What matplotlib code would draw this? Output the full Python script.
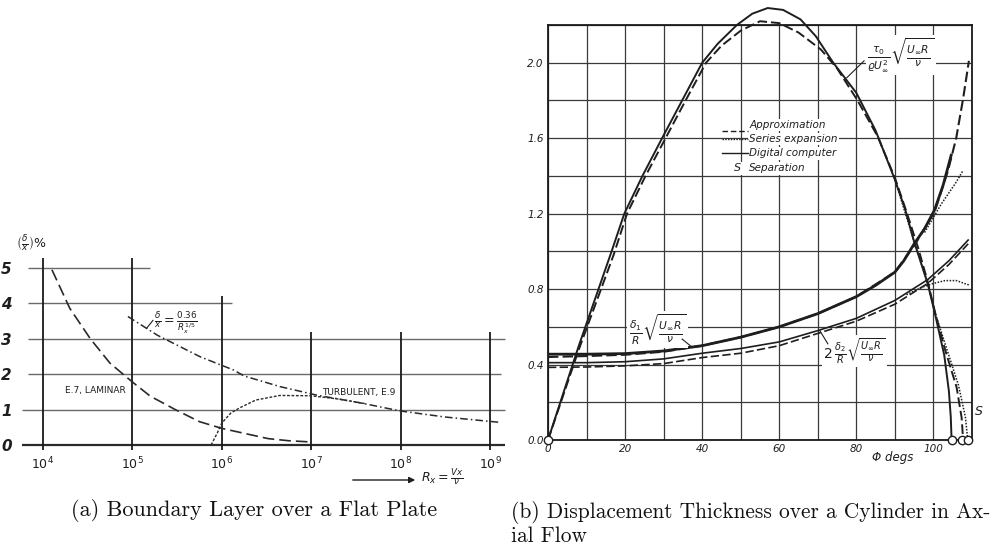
import numpy as np
import matplotlib
matplotlib.use("Agg")
import matplotlib.pyplot as plt

plt.rcParams['mathtext.fontset'] = 'dejavusans'
plt.rcParams['mathtext.default'] = 'it'

SANS = ['DejaVu Sans']
INK = '#1e1e1e'

# ---------------- (a) flat plate boundary layer ----------------
# log10 of the Reynolds number R_x, and delta/x in percent
lam_logR = [4.1, 4.3, 4.53, 4.75, 5.0, 5.2, 5.48, 5.75, 6.0, 6.25, 6.52, 6.75, 6.97]
lam_val = [4.95, 3.86, 3.0, 2.31, 1.78, 1.38, 1.0, 0.66, 0.47, 0.33, 0.18, 0.12, 0.09]

turb_logR = [4.95, 5.28, 5.76, 6.13, 6.25, 6.65, 7.06, 7.55, 8.0, 8.5, 9.11]
turb_val = [3.63, 3.1, 2.49, 2.12, 1.95, 1.65, 1.41, 1.19, 0.96, 0.79, 0.64]

e9_logR = [5.88, 5.95, 6.0, 6.1, 6.2, 6.38, 6.65, 7.0, 7.3, 7.6]
e9_val = [0.0, 0.34, 0.62, 0.9, 1.05, 1.27, 1.40, 1.39, 1.30, 1.17]

a_decades = [4, 5, 6, 7, 8, 9]
a_yticks = [0, 1, 2, 3, 4, 5]

# ---------------- (b) cylinder in axial flow ----------------
# wall shear parameter
tau_dig_phi = [0, 8, 16.5, 19.8, 24.5, 29.6, 34.8, 40, 44, 49, 53, 57, 61, 65.5,
               69.5, 74, 80, 85, 90, 92.7, 95, 98.5, 100.5, 102.8, 104.0, 104.5, 104.7]
tau_dig_val = [0, 0.5, 1.0, 1.2, 1.4, 1.6, 1.8, 2.0, 2.1, 2.2, 2.26, 2.29, 2.28, 2.23,
               2.14, 2.0, 1.84, 1.64, 1.38, 1.22, 1.05, 0.83, 0.66, 0.45, 0.26, 0.12, 0.0]

tau_apx_phi = [0, 8, 17, 20.5, 25.3, 30.5, 35.7, 41, 45, 50, 55, 60, 65, 70.8, 75,
               80.3, 85.5, 90, 93, 96, 98.5, 100.5, 103, 106, 107.3, 107.7]
tau_apx_val = [0, 0.48, 0.98, 1.2, 1.4, 1.6, 1.8, 2.0, 2.09, 2.17, 2.22, 2.21, 2.16,
               2.07, 1.97, 1.80, 1.61, 1.39, 1.21, 1.02, 0.84, 0.67, 0.48, 0.28, 0.12, 0.0]

tau_ser_phi = [90, 95, 98.5, 100.5, 103.5, 106.5, 108.3, 108.9]
tau_ser_val = [1.38, 1.05, 0.83, 0.67, 0.48, 0.29, 0.12, 0.0]

# displacement thickness
d1_dig_phi = [0, 10, 20, 30, 40, 50, 60, 70, 80, 85, 90, 92.3, 95, 97.7, 100.3, 102.5, 104.6]
d1_dig_val = [0.455, 0.455, 0.458, 0.472, 0.50, 0.545, 0.60, 0.67, 0.76, 0.82, 0.89,
              0.95, 1.04, 1.12, 1.22, 1.35, 1.51]

d1_apx_phi = [0, 10, 20, 30, 40, 50, 60, 70, 80, 90, 95, 100.3, 103.8, 105.9, 107.7, 109.2]
d1_apx_val = [0.44, 0.445, 0.452, 0.468, 0.50, 0.545, 0.60, 0.67, 0.76, 0.89, 1.03,
              1.21, 1.43, 1.60, 1.81, 2.01]

d1_ser_phi = [97.7, 100, 102, 104, 106, 107.7]
d1_ser_val = [1.10, 1.18, 1.25, 1.31, 1.37, 1.43]

# momentum thickness (twice)
d2_phi = [0, 10, 20, 30, 40, 50, 60, 70, 80, 90, 98.5, 104, 109]
d2_dig_val = [0.41, 0.41, 0.415, 0.43, 0.46, 0.485, 0.52, 0.58, 0.645, 0.74, 0.85, 0.95, 1.06]
d2_apx_val = [0.385, 0.387, 0.393, 0.405, 0.437, 0.46, 0.50, 0.565, 0.63, 0.72, 0.83, 0.93, 1.04]

d2_ser_phi = [93, 97, 100, 103, 106, 108, 109.5]
d2_ser_val = [0.77, 0.81, 0.83, 0.845, 0.845, 0.83, 0.82]

sep_phi = [0, 104.7, 107.5, 108.9]

b_xticks = list(range(0, 111, 10))
b_yticks = [round(0.2 * i, 1) for i in range(12)]

fig = plt.figure(figsize=(10.06, 5.44), dpi=100)

# ================= panel (a) =================
ax = fig.add_axes([20 / 1006, 94 / 544, 486 / 1006, 200 / 544])
ax.set_xscale('log')
ax.set_xlim(10 ** 3.743, 10 ** 9.179)
ax.set_ylim(-0.141, 5.508)
for s in ax.spines.values():
    s.set_visible(False)

# ruled lines
h_extent = {5: (3.83, 5.20), 4: (3.83, 6.11), 3: (3.83, 9.17), 2: (3.83, 9.12),
            1: (3.76, 9.17), 0: (3.76, 9.17)}
for yv, (l0, l1) in h_extent.items():
    ax.hlines(yv, 10 ** l0, 10 ** l1, color='#2a2a2a' if yv == 0 else '#6a6a6a',
              lw=1.6 if yv == 0 else 1.0, zorder=1)
v_top = {4: 5.28, 5: 5.28, 6: 4.2, 7: 3.2, 8: 3.2, 9: 3.2}
for k in a_decades:
    ax.vlines(10.0 ** k, -0.13, v_top[k], color='#1a1a1a', lw=1.3, zorder=1)

ax.plot(10 ** np.array(lam_logR), lam_val, color='#2a2a2a', lw=1.2,
        ls=(0, (7, 3)), zorder=3)
ax.plot(10 ** np.array(turb_logR), turb_val, color='#2a2a2a', lw=1.1,
        ls=(0, (5, 2, 1, 2)), zorder=3)
ax.plot(10 ** np.array(e9_logR), e9_val, color='#2a2a2a', lw=1.0,
        ls=(0, (2, 1.2)), zorder=3)

ax.set_xticks([10.0 ** k for k in a_decades])
ax.set_xticklabels([r'$10^{%d}$' % k for k in a_decades], fontsize=9)
ax.minorticks_off()
ax.set_yticks(a_yticks)
ax.set_yticklabels([str(v) for v in a_yticks], fontsize=11, fontstyle='italic',
                   fontweight='bold')
ax.tick_params(length=0, pad=4, colors=INK)
ax.tick_params(axis='y', pad=6)

ax.text(10 ** 4.25, 1.55, 'E.7, LAMINAR', fontsize=6.5, color=INK, va='center',
        family=SANS)
ax.text(10 ** 7.12, 1.47, 'TURBULENT, E.9', fontsize=6.5, color=INK, va='center',
        family=SANS)
ax.text(10 ** 5.24, 3.45, r'$\frac{\delta}{x}=\frac{0.36}{R_x^{1/5}}$', fontsize=9,
        color=INK, va='center')
ax.plot([10 ** 5.16, 10 ** 5.23], [3.3, 3.52], color=INK, lw=0.8)

fig.text(31, 300, r'$\left(\frac{\delta}{x}\right)\%$', transform=None,
         fontsize=9, color=INK, ha='center', va='center')
ax.annotate('', xy=(418, 64), xytext=(350, 64), xycoords='figure pixels',
            textcoords='figure pixels',
            arrowprops=dict(arrowstyle='-|>', color=INK, lw=1.0, mutation_scale=9))
fig.text(421, 66, r'$R_x=\frac{Vx}{\nu}$', transform=None, fontsize=9,
         color=INK, ha='left', va='center')

# ================= panel (b) =================
bx = fig.add_axes([548 / 1006, 104 / 544, 424 / 1006, 415 / 544])
bx.set_xlim(0, 110)
bx.set_ylim(0, 2.2)
for s in bx.spines.values():
    s.set_color('#1a1a1a')
    s.set_linewidth(1.3)
bx.set_xticks(b_xticks)
bx.set_xticklabels([str(v) if v % 20 == 0 and v <= 100 else '' for v in b_xticks],
                   fontsize=7.5, fontstyle='italic', family=SANS)
bx.set_yticks(b_yticks)
bx.set_yticklabels(['%.1f' % v if i % 2 == 0 and v < 2.1 else ''
                    for i, v in enumerate(b_yticks)],
                   fontsize=7.5, fontstyle='italic', family=SANS)
bx.tick_params(length=0, pad=3, colors=INK)
bx.grid(True, color='#3a3a3a', lw=0.9)
bx.set_axisbelow(True)

lw_t = 1.4
bx.plot(tau_dig_phi, tau_dig_val, color=INK, lw=lw_t, clip_on=False, zorder=3)
bx.plot(tau_apx_phi, tau_apx_val, color=INK, lw=lw_t, ls=(0, (5, 2)),
        clip_on=False, zorder=3)
bx.plot(tau_ser_phi, tau_ser_val, color=INK, lw=1.1, ls=(0, (1, 1)), zorder=3)

bx.plot(d1_dig_phi, d1_dig_val, color=INK, lw=2.0, zorder=3)
bx.plot(d1_apx_phi, d1_apx_val, color=INK, lw=1.5, ls=(0, (5, 2)), zorder=3)
bx.plot(d1_ser_phi, d1_ser_val, color=INK, lw=1.1, ls=(0, (1, 1)), zorder=3)

bx.plot(d2_phi, d2_dig_val, color=INK, lw=1.2, zorder=3)
bx.plot(d2_phi, d2_apx_val, color=INK, lw=1.2, ls=(0, (5, 2)), zorder=3)
bx.plot(d2_ser_phi, d2_ser_val, color=INK, lw=1.1, ls=(0, (1, 1)), zorder=3)

bx.plot(sep_phi, [0] * len(sep_phi), 'o', ms=6, mfc='white', mec=INK, mew=1.0,
        clip_on=False, zorder=6)
bx.text(111.8, 0.15, 'S', fontsize=9, fontstyle='italic', color=INK,
        family=SANS, va='center', ha='center')

white = dict(facecolor='white', edgecolor='none', pad=1.0)
bx.text(91.5, 2.04, r'$\frac{\tau_0}{\varrho U_\infty^2}\sqrt{\frac{U_\infty R}{\nu}}$',
        fontsize=11, color=INK, ha='center', va='center', bbox=white, zorder=4)
bx.plot([77.5, 82.0], [1.92, 2.01], color=INK, lw=0.8, zorder=5)

bx.text(28.4, 0.585, r'$\frac{\delta_1}{R}\sqrt{\frac{U_\infty R}{\nu}}$',
        fontsize=11, color=INK, ha='center', va='center', bbox=white, zorder=4)
bx.plot([34.8, 37.5], [0.535, 0.49], color=INK, lw=0.8, zorder=5)

bx.text(79.5, 0.47, r'$2\,\frac{\delta_2}{R}\sqrt{\frac{U_\infty R}{\nu}}$',
        fontsize=10, color=INK, ha='center', va='center', bbox=white, zorder=4)
bx.plot([70.5, 72.6], [0.58, 0.51], color=INK, lw=0.8, zorder=5)

# key
key_rows = [('Approximation', (0, (4, 2)), 1.67, 1.64),
            ('Series expansion', (0, (1, 1)), 1.595, 1.595),
            ('Digital computer', '-', 1.52, 1.52)]
for label, ls, ytxt, yline in key_rows:
    bx.text(52.2, ytxt, label, fontsize=7.5, fontstyle='italic', color=INK,
            family=SANS, ha='left', va='center', bbox=white, zorder=4)
    bx.plot([45.2, 51.9], [yline, yline], color=INK, lw=1.0, ls=ls, zorder=5)
bx.text(52.2, 1.44, 'Separation', fontsize=7.5, fontstyle='italic', color=INK,
        family=SANS, ha='left', va='center', bbox=white, zorder=4)
bx.text(49.2, 1.44, 'S', fontsize=8, fontstyle='italic', color=INK,
        family=SANS, ha='center', va='center', bbox=white, zorder=4)

fig.text(893 / 1006, 1 - 458 / 544, 'Φ degs', fontsize=8.5, fontstyle='italic',
         color=INK, family=SANS, ha='center', va='center')

# captions
fig.text(254 / 1006, 1 - 510 / 544, '(a) Boundary Layer over a Flat Plate',
         ha='center', va='center', family='cmr10', fontsize=16, color='#111111')
cap_b = dict(family='cmr10', fontsize=15.4, color='#111111')
fig.text(511 / 1006, 1 - 512 / 544, '(b) Displacement Thickness over a Cylinder in Ax-',
         ha='left', va='center', **cap_b)
fig.text(511 / 1006, 1 - 536 / 544, 'ial Flow', ha='left', va='center', **cap_b)

fig.savefig('out.png', dpi=100)
